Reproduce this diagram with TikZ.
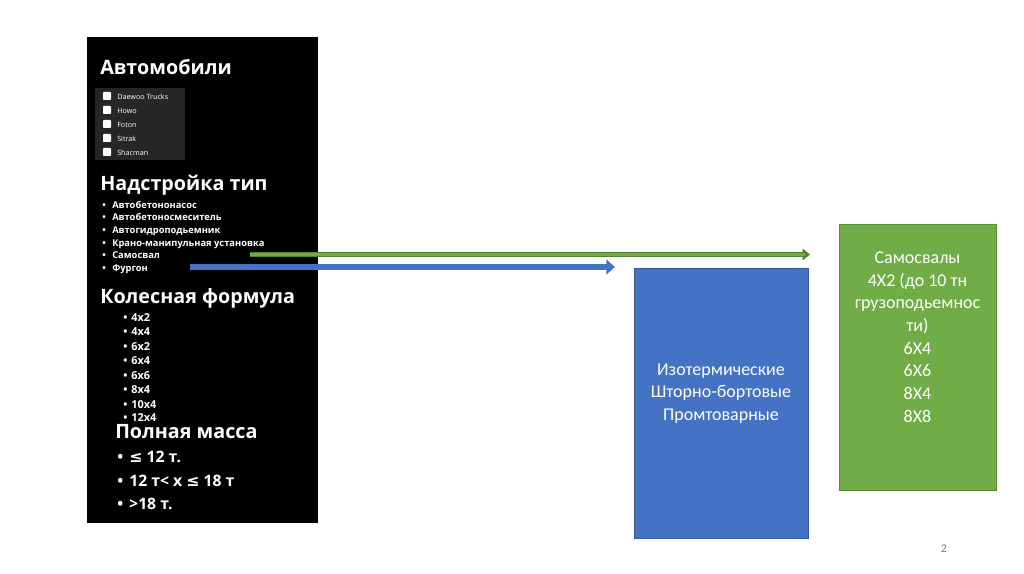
\documentclass[tikz,border=0pt]{standalone}
\usepackage{fontspec}
\setmainfont{Carlito}
\newfontfamily\panelfont{Open Sans}
\newfontfamily\symfont{DejaVu Sans}
\usetikzlibrary{arrows.meta, positioning}
\definecolor{slidegreen}{RGB}{112, 173, 71}
\definecolor{slidegreendark}{RGB}{84, 130, 53}
\definecolor{slideblue}{RGB}{68, 114, 196}
\definecolor{checkgray}{RGB}{38, 38, 38}

\begin{document}
\begin{tikzpicture}[x=0.75pt, y=-0.75pt,
    panel/.style={anchor=west, inner sep=0pt, text=white, text height=0.72em, text depth=0.2em},
    heading/.style={panel, font=\panelfont\bfseries\fontsize{14.8}{16}\selectfont},
    checkitem/.style={panel, font=\panelfont\fontsize{5.4}{6}\selectfont},
    bodyitem/.style={panel, font=\panelfont\bfseries\fontsize{7}{8}\selectfont},
    wheelitem/.style={panel, font=\panelfont\bfseries\fontsize{8.2}{9}\selectfont},
    massitem/.style={panel, font=\panelfont\bfseries\fontsize{11.8}{13}\selectfont},
    slidebox/.style={rectangle, draw=#1!80!black, fill=#1, line width=0.6pt, inner sep=0pt},
    boxtext/.style={align=center, text=white, inner sep=0pt, font=\fontsize{13.5}{17}\selectfont},
]
\useasboundingbox (0,0) rectangle (1024,574);

% screenshot panel
\fill[black] (87,37) rectangle (318,523);
\node[heading] (autos) at (100,71) {Автомобили};
\fill[checkgray] (95,88) rectangle (185,160);
\foreach \brand [count=\i] in {Daewoo Trucks, Howo, Foton, Sitrak, Shacman} {
    \fill[white, rounded corners=0.6pt] (103,78+14*\i) rectangle (111,86+14*\i);
    \node[checkitem] (brand\i) at (117,82+14*\i) {\brand};
}

\node[heading] (body) at (100,187) {Надстройка тип};
\foreach \kind/\yy [count=\i] in {Автобетононасос/205, Автобетоносмеситель/217.5, Автогидроподьемник/230, Крано-манипульная установка/243, Самосвал/255.5, Фургон/268} {
    \node[bodyitem] (kindbullet\i) at (102,\yy) {•};
    \node[bodyitem] (kind\i) at (112,\yy) {\kind};
}

\node[heading] (wheels) at (100,300) {Колесная формула};
\foreach \wf/\yy [count=\i] in {4x2/318, 4x4/332.5, 6x2/347, 6x4/361.5, 6x6/376, 8x4/390.5, 10x4/405, 12x4/418} {
    \node[wheelitem] (wfbullet\i) at (123,\yy) {•};
    \node[wheelitem] (wf\i) at (131,\yy) {\wf};
}

\node[heading] (mass) at (115,435) {Полная масса};
\node[massitem] (massbullet1) at (117,459) {•};
\node[massitem] (mass1) at (129,459) {{\symfont ≤} 12 т.};
\node[massitem] (massbullet2) at (117,483) {•};
\node[massitem] (mass2) at (129,483) {12 т< x {\symfont ≤} 18 т};
\node[massitem] (massbullet3) at (117,506) {•};
\node[massitem] (mass3) at (129,506) {>18 т.};

% result boxes
\node[slidebox=slideblue, minimum width=130.5pt, minimum height=202.5pt] (vanbox) at (721,403) {};
\node[boxtext] (vantext) at (721,393.5) {Изотермические\\Шторно-бортовые\\Промтоварные};
\node[slidebox=slidegreen, minimum width=117.75pt, minimum height=199.5pt] (tipperbox) at (917.5,357) {};
\node[boxtext] (tippertext) at (917.5,337) {Самосвалы\\4X2 (до 10 тн\\грузоподьемнос\\ти)\\6X4\\6X6\\8X4\\8X8};

% arrows from the list
\coordinate (tipperstart) at (250,254.5);
\coordinate (tipperend) at (810,254.5);
\coordinate (vanstart) at (190,267);
\coordinate (vanend) at (615,267);
\draw[slidegreendark, line width=3.4pt, -{Triangle[length=5.5pt, width=8.5pt]}] (tipperstart) -- (tipperend);
\draw[slidegreen, line width=2.2pt, shorten >=4pt] (tipperstart) -- (tipperend);
\draw[slideblue, line width=4.5pt, -{Triangle[length=6.5pt, width=11pt]}] (vanstart) -- (vanend);

\node[text=gray, font=\fontsize{9}{10}\selectfont] (pagenum) at (944,549) {2};
\end{tikzpicture}
\end{document}
